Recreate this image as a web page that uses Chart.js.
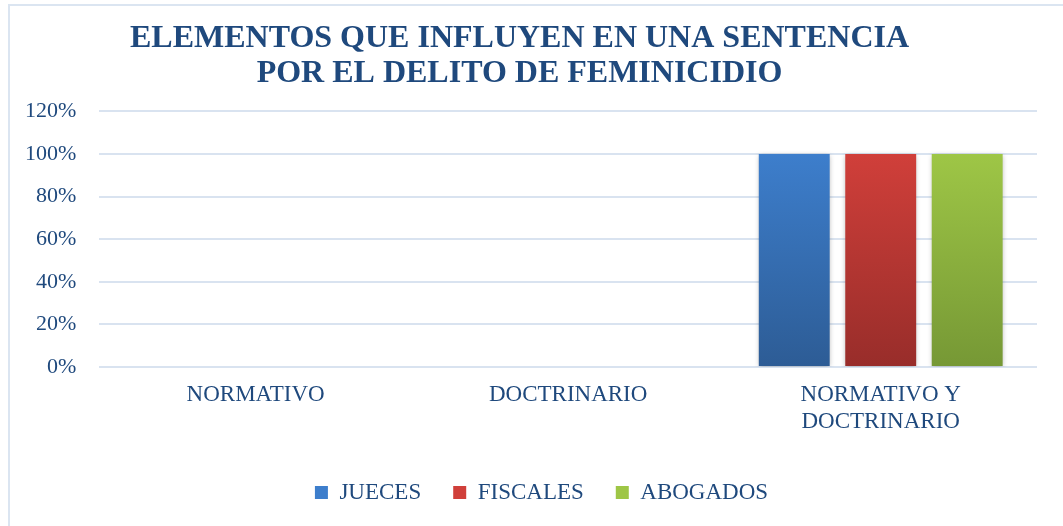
<!DOCTYPE html>
<html>
<head>
<meta charset="utf-8">
<script src="https://cdn.jsdelivr.net/npm/chart.js@4.4.1/dist/chart.umd.min.js"></script>
<style>
  body { margin: 0; background: #fff; }
  .marco {
    position: absolute; left: 8px; top: 4px; width: 1080px; height: 540px;
    border: 2px solid #dbe5f1;
  }
  canvas { position: absolute; left: 0; top: 0; }
</style>
</head>
<body>
<div class="marco"></div>
<canvas id="grafico" width="1063" height="526"></canvas>
<script>
"use strict";
const categorias = ["NORMATIVO", "DOCTRINARIO", ["NORMATIVO Y", "DOCTRINARIO"]];
const jueces = [0, 0, 100];
const fiscales = [0, 0, 100];
const abogados = [0, 0, 100];
const tituloLineas = ["ELEMENTOS QUE INFLUYEN EN UNA SENTENCIA", "POR EL DELITO DE FEMINICIDIO"];

const azulTexto = "#1f497d";
const fuente = "'Liberation Serif', 'Times New Roman', serif";
// colores [arriba, abajo] del degradado de cada barra
const degradados = {
  JUECES: ["#3d7ecc", "#2d5c95"],
  FISCALES: ["#d03f3a", "#982d2a"],
  ABOGADOS: ["#9ec646", "#769835"],
};

function colorBarra(nombre) {
  return function (context) {
    const chart = context.chart;
    const [arriba, abajo] = degradados[nombre];
    if (!chart.chartArea || context.raw === undefined) return arriba;
    const y = chart.scales.y;
    const top = y.getPixelForValue(context.raw);
    const base = y.getPixelForValue(0);
    if (base - top < 1) return arriba;
    const g = chart.ctx.createLinearGradient(0, top, 0, base);
    g.addColorStop(0, arriba);
    g.addColorStop(1, abajo);
    return g;
  };
}

// sombra suave de las barras
const sombra = {
  id: "sombra",
  beforeDatasetsDraw(chart) {
    const ctx = chart.ctx;
    ctx.save();
    ctx.shadowColor = "rgba(0,0,0,0.28)";
    ctx.shadowBlur = 5;
    ctx.shadowOffsetX = 0;
    ctx.shadowOffsetY = 1;
  },
  afterDatasetsDraw(chart) {
    chart.ctx.restore();
  },
};

// la leyenda va un poco corrida a la derecha en el original
const moverLeyenda = {
  id: "moverLeyenda",
  afterLayout(chart) {
    chart.legend.left += 22;
    chart.legend.right += 22;
  },
};

const data = {
  labels: categorias,
  datasets: [
    { label: "JUECES", data: jueces, backgroundColor: colorBarra("JUECES") },
    { label: "FISCALES", data: fiscales, backgroundColor: colorBarra("FISCALES") },
    { label: "ABOGADOS", data: abogados, backgroundColor: colorBarra("ABOGADOS") },
  ],
};

const config = {
  type: "bar",
  data: data,
  options: {
    responsive: false,
    animation: false,
    layout: { padding: { left: 2, right: 26, top: 0, bottom: 12 } },
    datasets: {
      bar: { categoryPercentage: 0.83, barPercentage: 0.82, borderWidth: 0 },
    },
    scales: {
      x: {
        grid: { display: false, drawTicks: false },
        border: { display: false },
        ticks: {
          color: azulTexto,
          padding: 14,
          maxRotation: 0,
          font: { family: fuente, size: 23, lineHeight: 1.174 },
        },
      },
      y: {
        min: 0,
        max: 120,
        grid: { color: "#d9e3f0", lineWidth: 2, drawTicks: false },
        border: { display: false },
        ticks: {
          stepSize: 20,
          color: azulTexto,
          padding: 23,
          font: { family: fuente, size: 22 },
          callback: function (value) {
            return value + "%";
          },
        },
      },
    },
    plugins: {
      title: {
        display: true,
        text: tituloLineas,
        color: azulTexto,
        padding: { top: 21, bottom: 20 },
        font: { family: fuente, size: 32, weight: "bold", lineHeight: 1.1 },
      },
      legend: {
        display: true,
        position: "bottom",
        labels: {
          color: azulTexto,
          boxWidth: 13,
          boxHeight: 13,
          padding: 32,
          font: { family: fuente, size: 23 },
          generateLabels: function (chart) {
            return chart.data.datasets.map((d, i) => ({
              text: d.label,
              fillStyle: degradados[d.label][0],
              strokeStyle: "transparent",
              lineWidth: 0,
              fontColor: azulTexto,
              datasetIndex: i,
            }));
          },
        },
      },
      tooltip: { enabled: false },
    },
  },
  plugins: [sombra, moverLeyenda],
};

const ctx = document.querySelector("#grafico").getContext("2d");
const myChart = new Chart(ctx, config);
</script>
</body>
</html>
